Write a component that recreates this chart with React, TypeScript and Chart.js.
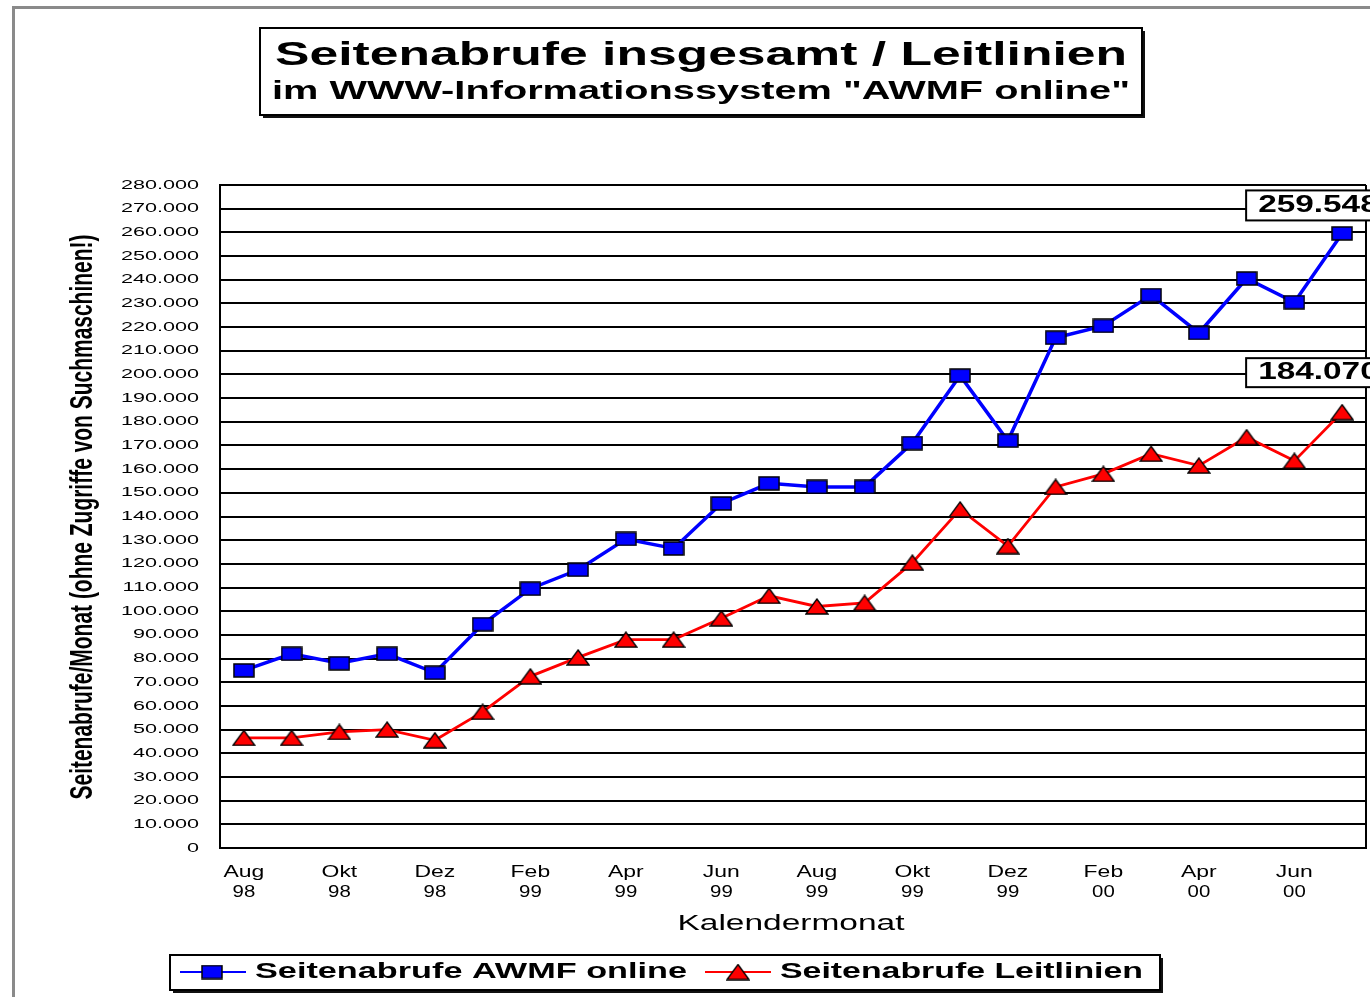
import React, { useEffect, useRef } from "react";
import { Chart, registerables } from "chart.js";

Chart.register(...registerables);

// ---- data ----
const months = ["Aug", "Sep", "Okt", "Nov", "Dez", "Jan", "Feb", "Mär", "Apr", "Mai", "Jun", "Jul", "Aug", "Sep", "Okt", "Nov", "Dez", "Jan", "Feb", "Mär", "Apr", "Mai", "Jun", "Jul"];
const years = ["98", "98", "98", "98", "98", "99", "99", "99", "99", "99", "99", "99", "99", "99", "99", "99", "99", "00", "00", "00", "00", "00", "00", "00"];
const awmfOnline = [75000, 82000, 78000, 82000, 74000, 94500, 109500, 117500, 130500, 126500, 145500, 154000, 152500, 152500, 171000, 199500, 172000, 215500, 220500, 233500, 217500, 240500, 230500, 259548];
const leitlinien = [46500, 46500, 49000, 50000, 45500, 57500, 72500, 80500, 88000, 88000, 97000, 106500, 102000, 103500, 120500, 143000, 127500, 152500, 158000, 166500, 161500, 173500, 163500, 184070];
const seriesNames = ["Seitenabrufe AWMF online", "Seitenabrufe Leitlinien"];
const titleLines = ["Seitenabrufe insgesamt / Leitlinien", "im WWW-Informationssystem \"AWMF online\""];
const yTitle = "Seitenabrufe/Monat (ohne Zugriffe von Suchmaschinen!)";
const xTitle = "Kalendermonat";
const yMin = 0;
const yMax = 280000;
const yStep = 10000;

const FONT = "'Liberation Sans', Arial, sans-serif";

function fmt(v: number): string {
  return String(Math.round(v)).replace(/\B(?=(\d{3})+(?!\d))/g, ".");
}

function drawText(
  ctx: CanvasRenderingContext2D,
  text: string,
  x: number,
  y: number,
  font: string,
  opts: { sx?: number; width?: number; align?: "left" | "center" | "right"; color?: string }
) {
  ctx.save();
  ctx.font = font;
  ctx.textBaseline = "middle";
  ctx.textAlign = "left";
  ctx.fillStyle = opts.color || "#000";
  const m = ctx.measureText(text).width;
  const sx = opts.width ? opts.width / m : opts.sx || 1;
  const w = m * sx;
  const align = opts.align || "left";
  const x0 = align === "left" ? x : align === "center" ? x - w / 2 : x - w;
  ctx.translate(x0, y);
  ctx.scale(sx, 1);
  ctx.fillText(text, 0, 0);
  ctx.restore();
}

function shadowBox(ctx: CanvasRenderingContext2D, x: number, y: number, w: number, h: number, shadow: number) {
  ctx.save();
  if (shadow > 0) {
    ctx.fillStyle = "#111";
    ctx.fillRect(x + shadow, y + shadow, w, h);
  }
  ctx.fillStyle = "#fff";
  ctx.fillRect(x, y, w, h);
  ctx.strokeStyle = "#000";
  ctx.lineWidth = 2;
  ctx.strokeRect(x, y, w, h);
  ctx.restore();
}

function makeSquare(): HTMLCanvasElement {
  const c = document.createElement("canvas");
  c.width = 22;
  c.height = 15;
  const g = c.getContext("2d")!;
  g.fillStyle = "#0000ff";
  g.fillRect(1, 1, 20, 13);
  g.strokeStyle = "#000";
  g.lineWidth = 1.5;
  g.strokeRect(1, 1, 20, 13);
  return c;
}

function makeTriangle(): HTMLCanvasElement {
  const c = document.createElement("canvas");
  c.width = 24;
  c.height = 17;
  const g = c.getContext("2d")!;
  g.beginPath();
  g.moveTo(12, 1);
  g.lineTo(23, 16);
  g.lineTo(1, 16);
  g.closePath();
  g.fillStyle = "#ff0000";
  g.fill();
  g.strokeStyle = "#000";
  g.lineWidth = 1.3;
  g.stroke();
  return c;
}

export default function App() {
  const ref = useRef<HTMLCanvasElement | null>(null);

  useEffect(() => {
    const canvas = ref.current;
    if (!canvas) return;
    const sq = makeSquare();
    const tri = makeTriangle();

    const decor = {
      id: "decor",
      afterDraw(chart: any) {
        const ctx: CanvasRenderingContext2D = chart.ctx;
        const xs = chart.scales.x;
        const ys = chart.scales.y;
        const area = chart.chartArea;

        // right border of plot area
        ctx.save();
        ctx.strokeStyle = "#000";
        ctx.lineWidth = 2;
        ctx.beginPath();
        ctx.moveTo(area.right, area.top);
        ctx.lineTo(area.right, area.bottom);
        ctx.stroke();
        ctx.restore();

        // outer grey frame
        ctx.save();
        ctx.strokeStyle = "#8a8a8a";
        ctx.lineWidth = 3;
        ctx.beginPath();
        ctx.moveTo(13.5, 997);
        ctx.lineTo(13.5, 7.5);
        ctx.lineTo(1370, 7.5);
        ctx.stroke();
        ctx.restore();

        // title box
        shadowBox(ctx, 260, 28, 882, 87, 3);
        drawText(ctx, titleLines[0], 701, 56, `bold 33px ${FONT}`, { width: 852, align: "center" });
        drawText(ctx, titleLines[1], 701, 92, `bold 26px ${FONT}`, { width: 858, align: "center" });

        // y tick labels
        ctx.save();
        ctx.font = `13px ${FONT}`;
        const ySx = 78 / ctx.measureText("280.000").width;
        ctx.restore();
        ys.ticks.forEach((t: any) => {
          const py = ys.getPixelForValue(t.value);
          drawText(ctx, fmt(t.value), 199, py, `13px ${FONT}`, { sx: ySx, align: "right" });
        });

        // x tick labels
        months.forEach((m, i) => {
          if (i % 2 !== 0) return;
          const px = xs.getPixelForValue(i);
          drawText(ctx, m, px, 872, `17px ${FONT}`, { sx: 1.35, align: "center" });
          drawText(ctx, years[i], px, 892, `17px ${FONT}`, { sx: 1.2, align: "center" });
        });

        // axis titles
        drawText(ctx, xTitle, 791, 924, `22px ${FONT}`, { width: 227, align: "center" });
        ctx.save();
        ctx.translate(83, 517);
        ctx.rotate(-Math.PI / 2);
        drawText(ctx, yTitle, 0, 0, `bold 31px ${FONT}`, { width: 565, align: "center" });
        ctx.restore();

        // value labels for the last points
        const lastIdx = awmfOnline.length - 1;
        const b1 = chart.getDatasetMeta(0).data[lastIdx];
        const b2 = chart.getDatasetMeta(1).data[lastIdx];
        shadowBox(ctx, b1.x - 96, b1.y - 43, 200, 30, 0);
        drawText(ctx, fmt(awmfOnline[lastIdx]), b1.x - 84, b1.y - 28, `bold 23px ${FONT}`, { sx: 1.45 });
        shadowBox(ctx, b2.x - 96, b2.y - 54, 200, 29, 0);
        drawText(ctx, fmt(leitlinien[lastIdx]), b2.x - 84, b2.y - 39, `bold 23px ${FONT}`, { sx: 1.45 });

        // legend
        shadowBox(ctx, 170, 955, 990, 35, 3);
        const ly = 972;
        ctx.save();
        ctx.lineWidth = 2;
        ctx.strokeStyle = "#0000ff";
        ctx.beginPath();
        ctx.moveTo(180, ly);
        ctx.lineTo(246, ly);
        ctx.stroke();
        ctx.strokeStyle = "#ff0000";
        ctx.beginPath();
        ctx.moveTo(705, ly);
        ctx.lineTo(771, ly);
        ctx.stroke();
        ctx.drawImage(sq, 212 - sq.width / 2, ly - sq.height / 2);
        ctx.drawImage(tri, 738 - tri.width / 2, ly - tri.height / 2);
        ctx.restore();
        drawText(ctx, seriesNames[0], 255, ly, `bold 22px ${FONT}`, { width: 432 });
        drawText(ctx, seriesNames[1], 780, ly, `bold 22px ${FONT}`, { width: 363 });
      },
    };

    const chart = new Chart(canvas, {
      type: "line",
      data: {
        labels: months.map((m, i) => `${m} ${years[i]}`),
        datasets: [
          {
            label: seriesNames[0],
            data: awmfOnline,
            borderColor: "#0000ff",
            backgroundColor: "#0000ff",
            borderWidth: 3.5,
            pointStyle: sq as any,
            pointRadius: 10,
            tension: 0,
          },
          {
            label: seriesNames[1],
            data: leitlinien,
            borderColor: "#ff0000",
            backgroundColor: "#ff0000",
            borderWidth: 2.8,
            pointStyle: tri as any,
            pointRadius: 10,
            tension: 0,
          },
        ],
      },
      options: {
        responsive: false,
        animation: false,
        layout: { autoPadding: false, padding: { top: 185, right: 4, left: 0, bottom: 0 } },
        plugins: {
          legend: { display: false },
          title: { display: false },
          tooltip: { enabled: false },
        },
        scales: {
          x: {
            type: "category",
            offset: true,
            grid: { display: false },
            border: { display: true, color: "#000", width: 2 },
            ticks: { display: false },
            afterFit: (s: any) => {
              s.height = 149;
            },
          },
          y: {
            min: yMin,
            max: yMax,
            ticks: { stepSize: yStep, display: false },
            grid: { color: "#000", lineWidth: 2, drawTicks: false },
            border: { display: true, color: "#000", width: 2 },
            afterFit: (s: any) => {
              s.width = 220;
            },
          },
        },
      },
      plugins: [decor],
    });

    return () => {
      chart.destroy();
    };
  }, []);

  return (
    <div style={{ position: "absolute", left: 0, top: 0, width: 1370, height: 997, background: "#fff" }}>
      <canvas ref={ref} width={1370} height={997} style={{ display: "block", width: 1370, height: 997 }} />
    </div>
  );
}
